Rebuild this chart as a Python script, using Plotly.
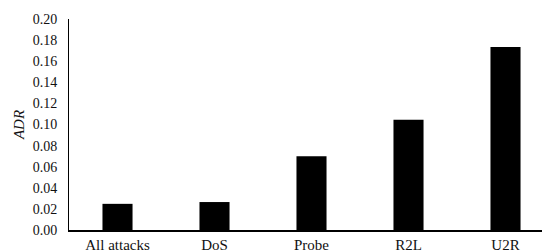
import plotly.graph_objects as go

categories = ["All attacks", "DoS", "Probe", "R2L", "U2R"]
adr_values = [0.0248, 0.0265, 0.0700, 0.1045, 0.1735]
y_ticks = [0.00, 0.02, 0.04, 0.06, 0.08, 0.10, 0.12, 0.14, 0.16, 0.18, 0.20]

font_family = "Palatino Linotype, Book Antiqua, Palatino, Liberation Serif, DejaVu Serif, serif"

fig = go.Figure(go.Bar(x=categories, y=adr_values, marker=dict(color="black", line=dict(width=0)), width=0.31))

fig.update_layout(
    width=550, height=252,
    margin=dict(l=61, r=4, t=11, b=30),
    paper_bgcolor="white", plot_bgcolor="white",
    font=dict(family=font_family, size=14, color="#111"),
    showlegend=False,
)
fig.update_xaxes(showline=True, linecolor="black", linewidth=1.5, showgrid=False,
                 ticks="", tickfont=dict(size=15), zeroline=False)
fig.update_yaxes(range=[0, 0.2], tickvals=y_ticks, tickformat=".2f", showline=True,
                 linecolor="black", linewidth=1, showgrid=False, zeroline=False, ticks="",
                 ticklabelstandoff=8, tickfont=dict(size=14),
                 title=dict(text="<i>ADR</i>", font=dict(size=15), standoff=4))

fig.write_html("out.html")
